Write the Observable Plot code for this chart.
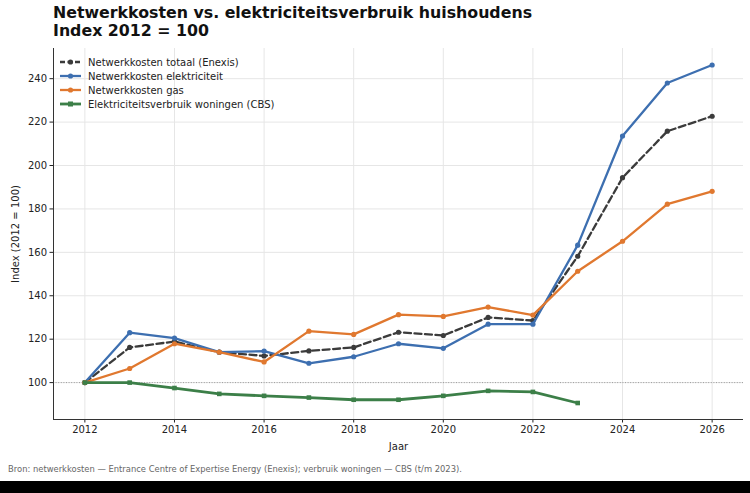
<!DOCTYPE html>
<html><head><meta charset="utf-8">
<script src="https://cdn.jsdelivr.net/npm/d3@7"></script>
<script src="https://cdn.jsdelivr.net/npm/@observablehq/plot@0.6"></script>
<style>
html,body{margin:0;padding:0;background:#000;}
#wrap{position:relative;width:750px;height:481px;background:#fff;overflow:hidden;font-family:"DejaVu Sans",sans-serif;}
#title{position:absolute;left:53px;top:4px;font-weight:bold;font-size:15.8px;line-height:18px;color:#111;}
#legend{position:absolute;left:60px;top:55px;font-size:10px;color:#222;}
#legend .row{height:14px;display:flex;align-items:center;}
#legend svg{margin-right:7px;}
#caption{position:absolute;left:8px;top:464px;font-size:8.4px;color:#666;}
#chart{position:absolute;left:0;top:0;}
</style></head>
<body>
<div id="wrap">
  <div id="chart"></div>
  <div id="title">Netwerkkosten vs. elektriciteitsverbruik huishoudens<br>Index 2012 = 100</div>
  <div id="legend"></div>
  <div id="caption">Bron: netwerkkosten — Entrance Centre of Expertise Energy (Enexis); verbruik woningen — CBS (t/m 2023).</div>
</div>
<script>
const years = [2012,2013,2014,2015,2016,2017,2018,2019,2020,2021,2022,2023,2024,2025,2026];
const totaal = [100,116.2,118.9,114.0,112.3,114.6,116.2,123.2,121.7,130.0,128.6,158.2,194.4,215.8,222.7];
const elektriciteit = [100,123.0,120.5,114.0,114.5,108.9,111.9,117.9,115.8,126.9,126.9,163.3,213.6,238.0,246.3];
const gas = [100,106.5,117.9,114.0,109.5,123.7,122.2,131.3,130.5,134.8,131.1,151.3,165.1,182.2,188.1];
const verbruikYears = [2012,2013,2014,2015,2016,2017,2018,2019,2020,2021,2022,2023];
const verbruik = [100,100,97.5,94.8,93.9,93.1,92.1,92.1,93.9,96.2,95.7,90.6];
const seriesNames = ["Netwerkkosten totaal (Enexis)","Netwerkkosten elektriciteit","Netwerkkosten gas","Elektriciteitsverbruik woningen (CBS)"];
const colors = ["#3b3b3b","#3d6fb0","#e0782f","#3c7f48"];
const xTicks = [2012,2014,2016,2018,2020,2022,2024,2026];
const yTicks = [100,120,140,160,180,200,220,240];

const rows = (name, xs, vs) => xs.map((x,i)=>({series:name, year:x, value:vs[i]}));
const dTot = rows(seriesNames[0], years, totaal);
const dEl = rows(seriesNames[1], years, elektriciteit);
const dGas = rows(seriesNames[2], years, gas);
const dVer = rows(seriesNames[3], verbruikYears, verbruik);

const xDom = [2011.3, 2026.7], yDom = [83, 253.9];
const chart = Plot.plot({
  width: 750, height: 481,
  marginLeft: 53, marginRight: 7, marginTop: 48, marginBottom: 62,
  style: {fontFamily: "DejaVu Sans, sans-serif", fontSize: "10px", color: "#222", background: "transparent"},
  x: {domain: xDom},
  y: {domain: yDom},
  marks: [
    Plot.gridX(xTicks, {stroke: "#e6e6e6", strokeOpacity: 1}),
    Plot.gridY(yTicks, {stroke: "#e6e6e6", strokeOpacity: 1}),
    Plot.ruleY([100], {stroke: "#888", strokeWidth: 0.8, strokeDasharray: "1,1.6"}),
    Plot.axisX(xTicks, {tickFormat: d => String(d), tickSize: 3.5, tickPadding: 3, fontSize: 10, label: "Jaar", labelAnchor: "center", labelArrow: "none", labelOffset: 30}),
    Plot.axisY(yTicks, {tickSize: 3.5, tickPadding: 3, fontSize: 10, label: "Index (2012 = 100)", labelAnchor: "center", labelArrow: "none", labelOffset: 42}),
    Plot.ruleX([xDom[0]], {stroke: "#333", strokeWidth: 1}),
    Plot.ruleY([yDom[0]], {stroke: "#333", strokeWidth: 1}),
    Plot.line(dTot, {x: "year", y: "value", stroke: colors[0], strokeWidth: 2.3, strokeDasharray: "7,3.5"}),
    Plot.dot(dTot, {x: "year", y: "value", fill: colors[0], r: 2.6}),
    Plot.line(dEl, {x: "year", y: "value", stroke: colors[1], strokeWidth: 2.3}),
    Plot.dot(dEl, {x: "year", y: "value", fill: colors[1], r: 2.6}),
    Plot.line(dGas, {x: "year", y: "value", stroke: colors[2], strokeWidth: 2.3}),
    Plot.dot(dGas, {x: "year", y: "value", fill: colors[2], r: 2.6}),
    Plot.line(dVer, {x: "year", y: "value", stroke: colors[3], strokeWidth: 2.8}),
    Plot.dot(dVer, {x: "year", y: "value", fill: colors[3], symbol: "square", r: 2.6})
  ]
});
document.getElementById("chart").appendChild(chart);

const leg = document.getElementById("legend");
seriesNames.forEach((n,i)=>{
  const row = document.createElement("div"); row.className="row";
  const dash = i===0 ? 'stroke-dasharray="5,2.5"' : '';
  const sw = i===3 ? 2.8 : 2.3;
  const mk = i===3 ? `<rect x="8" y="2.5" width="5" height="5" fill="${colors[i]}"/>` : `<circle cx="10.5" cy="5" r="2.6" fill="${colors[i]}"/>`;
  row.innerHTML = `<svg width="21" height="10"><line x1="0" x2="21" y1="5" y2="5" stroke="${colors[i]}" stroke-width="${sw}" ${dash}/>${mk}</svg><span>${n}</span>`;
  leg.appendChild(row);
});
</script>
</body></html>
